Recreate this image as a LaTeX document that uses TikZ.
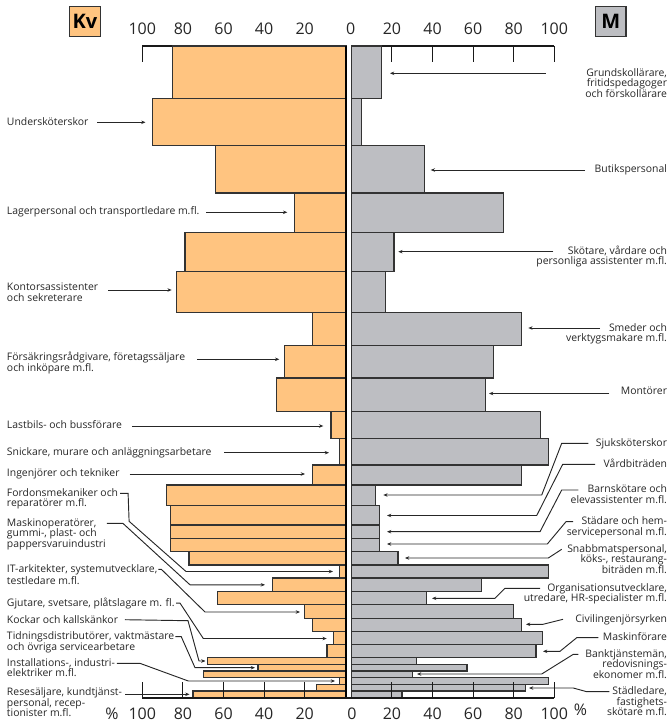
\documentclass[tikz,border=0pt]{standalone}
\usepackage{fontspec}
\setmainfont{Open Sans}
\usetikzlibrary{arrows.meta}
\usetikzlibrary{calc}

\definecolor{kvorange}{RGB}{255,196,128}
\definecolor{mgray}{RGB}{189,190,194}
\definecolor{edgegray}{RGB}{51,51,51}

\tikzset{
  kvbar/.style={draw=edgegray, fill=kvorange, line width=0.9pt},
  mbar/.style={draw=edgegray, fill=mgray, line width=0.9pt},
  axisline/.style={line width=0.8pt, black!90},
  lead/.style={line width=0.7pt, black!85, -{Stealth[length=3.2pt,width=2.6pt]}},
  lbl/.style={inner sep=0pt, outer sep=0pt, font=\fontsize{7.8pt}{7.9pt}\selectfont, text=black!85},
  lbll/.style={lbl, anchor=north west, align=left},
  lblr/.style={lbl, anchor=north east, align=right},
  scalenum/.style={inner sep=0pt, font=\fontsize{12pt}{14pt}\selectfont, text=black!85},
  sexbox/.style={draw=edgegray, line width=1pt, minimum width=23pt, minimum height=22.5pt, inner sep=0pt, font=\bfseries\fontsize{15pt}{17pt}\selectfont}
}

\begin{document}
\begin{tikzpicture}[x=0.75pt,y=-0.75pt]
\useasboundingbox (0,0) rectangle (670,723);

\node[sexbox, fill=kvorange] (kv) at (85,21.7) {Kv};
\node[sexbox, fill=mgray] (m) at (610.8,21.7) {M};

\draw[axisline] (142.3,46) -- (345.3,46);
\draw[axisline] (351.3,46) -- (554.3,46);
\foreach \v in {20,40,...,100}{
  \draw[axisline] ({345.3-2.03*\v},46) -- ++(0,16);
  \draw[axisline] ({351.3+2.03*\v},46) -- ++(0,16);
  \node[scalenum] (tl\v) at ({345.3-2.03*\v},29) {\v};
  \node[scalenum] (tr\v) at ({351.3+2.03*\v},29) {\v};
}
\node[scalenum] (t0) at (350.7,29) {0};

% top/bottom of each row and share of women in %
\foreach \ya/\yb/\p in {46/98.3/85, 98.3/145.7/95, 145.7/193/64, 193/232.5/25,
    232.5/271.7/79, 271.7/312.3/83, 312.3/345.3/16, 345.3/378/30, 378/411.5/34,
    411.5/438.3/7, 438.3/465/3, 465/485/16, 485/505.3/88, 505.3/525/86,
    525/538.3/86, 538.3/551.5/86, 551.5/565/77, 565/578/3, 578/591.7/36,
    591.7/604.7/63, 604.7/618.3/20, 618.3/631.5/16, 631.5/644.7/6, 644.7/657.7/9,
    657.7/664.3/68, 664.3/671/43, 671/677.7/70, 677.7/684.3/3, 684.3/691/14,
    691/697.7/75}{
  \draw[kvbar] ({345.3-2.03*\p},\ya) rectangle (346,\yb);
  \draw[mbar] (351.3,\ya) rectangle ({351.3+2.03*(100-\p)},\yb);
}
\draw[line width=1.7pt] (346,45.7) -- (346,698.3);

\draw[axisline] (142.3,698) -- (554.3,698);
\foreach \v in {20,40,...,100}{
  \draw[axisline] ({345.3-2.03*\v},698) -- ++(0,-16.5);
  \draw[axisline] ({351.3+2.03*\v},698) -- ++(0,-16.5);
  \node[scalenum] (bl\v) at ({345.3-2.03*\v},713.8) {\v};
  \node[scalenum] (br\v) at ({351.3+2.03*\v},713.8) {\v};
}
\node[scalenum] (b0) at (352,713.8) {0};
\node[scalenum] (pl) at (112,713.8) {\%};
\node[scalenum] (pr) at (580.5,710) {\%};

\node[lbll] (unders) at (7,117.3) {Undersköterskor};
\node[lbll] (lager) at (7,206.7) {Lagerpersonal och transportledare m.fl.};
\node[lbll] (kontor) at (7,283.3) {Kontorsassistenter\\och sekreterare};
\node[lbll] (forsak) at (7,352.3) {Försäkringsrådgivare, företagssäljare\\och inköpare m.fl.};
\node[lbll] (lastb) at (7,421) {Lastbils- och bussförare};
\node[lbll] (snick) at (7,447.7) {Snickare, murare och anläggningsarbetare};
\node[lbll] (ingen) at (7,468.5) {Ingenjörer och tekniker};
\node[lbll] (ford) at (7,488.3) {Fordonsmekaniker och\\reparatörer m.fl.};
\node[lbll] (maskop) at (7,518.3) {Maskinoperatörer,\\gummi-, plast- och\\pappersvaruindustri};
\node[lbll] (itark) at (7,564.3) {IT-arkitekter, systemutvecklare,\\[1.5pt]testledare m.fl.};
\node[lbll] (gjut) at (7,597.7) {Gjutare, svetsare, plåtslagare m. fl.};
\node[lbll] (kock) at (7,615.7) {Kockar och kallskänkor};
\node[lbll] (tidn) at (7,631.7) {Tidningsdistributörer, vaktmästare\\och övriga servicearbetare};
\node[lbll] (install) at (7,658.3) {Installations-, industri-\\elektriker m.fl.};
\node[lbll] (rese) at (7,687.7) {Resesäljare, kundtjänst-\\personal, recep-\\tionister m.fl.};

\node[lblr] (grund) at (667,68.3) {Grundskollärare,\\fritidspedagoger\\och förskollärare};
\node[lblr] (butik) at (667,165) {Butikspersonal};
\node[lblr] (skot) at (667,245.7) {Skötare, vårdare och\\personliga assistenter m.fl.};
\node[lblr] (smed) at (667,323.3) {Smeder och\\verktygsmakare m.fl.};
\node[lblr] (mont) at (667,387.3) {Montörer};
\node[lblr] (sjuk) at (667,438.3) {Sjuksköterskor};
\node[lblr] (vard) at (667,459.3) {Vårdbiträden};
\node[lblr] (barn) at (667,485) {Barnskötare och\\elevassistenter m.fl.};
\node[lblr] (stad) at (667,516.7) {Städare och hem-\\servicepersonal m.fl.};
\node[lblr] (snabb) at (667,544.3) {Snabbmatspersonal,\\köks-, restaurang-\\biträden m.fl.};
\node[lblr] (org) at (667,583.3) {Organisationsutvecklare,\\utredare, HR-specialister m.fl.};
\node[lblr] (civil) at (667,614.3) {Civilingenjörsyrken};
\node[lblr] (maskf) at (667,632.7) {Maskinförare};
\node[lblr] (bank) at (667,649.3) {Banktjänstemän,\\redovisnings-\\ekonomer m.fl.};
\node[lblr] (stadl) at (667,686.7) {Städledare,\\fastighets-\\skötare m.fl.};

\coordinate (undersT) at (145.5,122.3);
\coordinate (lagerT) at (287.3,212.3);
\coordinate (kontorT) at (171.7,290);
\coordinate (forsakT) at (279.3,359.3);
\coordinate (lastbT) at (323.3,426);
\coordinate (snickT) at (329,452.7);
\coordinate (ingenT) at (305,474);
\coordinate (fordT) at (333,571.5);
\coordinate (maskopT) at (265,584.8);
\coordinate (itarkT) at (300,612);
\coordinate (gjutT) at (326.7,638.5);
\coordinate (kockT) at (205.5,661);
\coordinate (tidnT) at (255,667.7);
\coordinate (installT) at (335,681);
\coordinate (reseT) at (189.5,694.3);

\draw[lead] (undersT -| unders.east) ++(9,0) -- (undersT);
\draw[lead] (lagerT -| lager.east) ++(6.6,0) -- (lagerT);
\draw[lead] (kontorT -| kontor.east) ++(10,0) -- (kontorT);
\draw[lead] (forsakT -| forsak.east) ++(12,0) -- (forsakT);
\draw[lead] (lastbT -| lastb.east) ++(10,0) -- (lastbT);
\draw[lead] (snickT -| snick.east) ++(12.7,0) -- (snickT);
\draw[lead] (ingenT -| ingen.east) ++(10,0) -- (ingenT);
\draw[lead] (ford.north east) ++(2,5) -- ++(8,0) -- ++(1,28) -- (186,571.5) -- (fordT);
\draw[lead] (maskop.north east) ++(1,5) -- ++(16,0) -- (190,584.8) -- (maskopT);
\draw[lead] (itark.north east) ++(1,5) -- ++(3,0) -- (205,612) -- (itarkT);
\draw[lead] (gjut.east) ++(1.5,0) -- ++(4,0) -- (203.3,638.5) -- (gjutT);
\draw[lead] (kock.east) ++(7,0) -- (188,620.7) -- (199,661) -- (kockT);
\draw[lead] (tidn.north east) ++(1,5) -- ++(6,0) -- (195,667.7) -- (tidnT);
\draw[lead] (install.north east) ++(2,5) -- ++(23,0) -- (188.3,681) -- (installT);
\draw[lead] (reseT -| rese.east) ++(3,0) -- (reseT);

\coordinate (grundT) at (390,73.3);
\coordinate (butikT) at (430.7,170);
\coordinate (skotT) at (398.3,251.7);
\coordinate (smedT) at (528.3,328);
\coordinate (montT) at (489,393.5);
\coordinate (sjukT) at (383.3,495);
\coordinate (vardT) at (387,515.5);
\coordinate (barnT) at (387,531.7);
\coordinate (stadT) at (387,544);
\coordinate (snabbT) at (405,558);
\coordinate (orgT) at (432,598.3);
\coordinate (civilT) at (526,624.3);
\coordinate (maskfT) at (543,651.3);
\coordinate (bankT) at (417,674);
\coordinate (stadlT) at (529,688);

\draw[lead] (grundT -| grund.east) ++(-121.3,0) -- (grundT);
\draw[lead] (butikT -| butik.east) ++(-82,0) -- (butikT);
\draw[lead] (skotT -| skot.east) ++(-113.7,0) -- (skotT);
\draw[lead] (smedT -| smed.east) ++(-67,0) -- (smedT);
\draw[lead] (montT -| mont.east) ++(-57.7,0) -- (montT);
\draw[lead] (sjuk.north east) ++(-78.7,5) -- ++(-26.6,0) -- (541.7,495) -- (sjukT);
\draw[lead] (vard.north east) ++(-72,5) -- ++(-32.3,0) -- (536.7,515.5) -- (vardT);
\draw[lead] (barn.north east) ++(-88.7,5) -- ++(-16.6,0) -- (540,531.7) -- (barnT);
\draw[lead] (stad.north east) ++(-94,5) -- ++(-7,0) -- (547.3,544) -- (stadT);
\draw[lead] (snabb.north east) ++(-105.3,5) -- (548.3,558) -- (snabbT);
\draw[lead] (org.north east) ++(-127,5) -- ++(-35,0) -- (495,598.3) -- (orgT);
\draw[lead] (civil.north east) ++(-104,5) -- (543,624.3) -- (civilT);
\draw[lead] (maskf.north east) ++(-68.7,5) -- ++(-21.6,0) -- (560,651.3) -- (maskfT);
\draw[lead] (bank.north east) ++(-88.7,5) -- ++(-5,0) -- (541.7,674) -- (bankT);
\draw[lead] (stadl.north east) ++(-57.7,5) -- ++(-22.6,0) -- (573.3,688) -- (stadlT);
\end{tikzpicture}
\end{document}
